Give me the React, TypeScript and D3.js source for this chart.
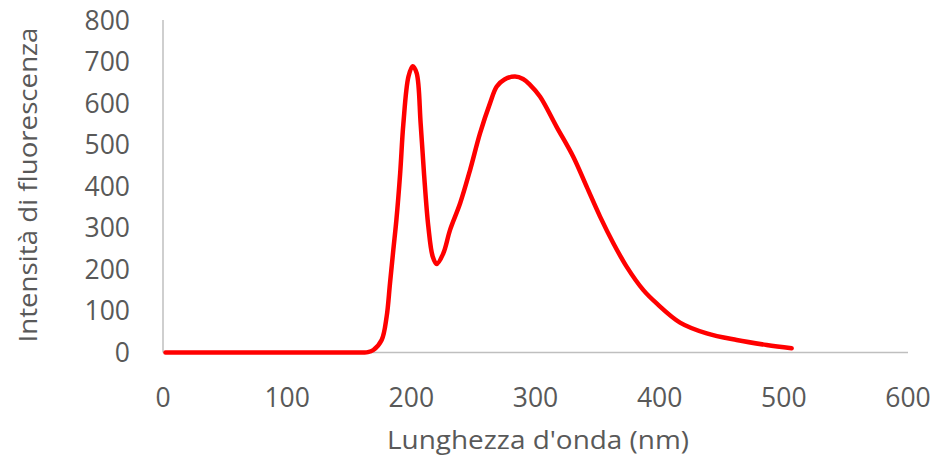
import React from "react";
import * as d3 from "d3";

const wavelengths = [2, 50, 100, 150, 165, 169.4, 176.1, 180.1, 182.8, 185.5, 188, 191, 193.6, 197.7, 201.1, 204.3, 207.5, 210.2, 213.7, 217.2, 220.4, 225.8, 231.2, 239.3, 247.3, 255.3, 263.4, 268.8, 275, 283.5, 290, 295.6, 303.6, 317, 330.4, 341.2, 352, 362.7, 373.5, 386.9, 397.6, 416.4, 437.9, 462, 486.2, 506.3];
const intensities = [0, 0, 0, 0, 1, 6, 30, 86, 166, 247, 320, 431, 551, 664, 689, 672, 551, 431, 303, 231, 213, 239, 295, 359, 439, 527, 600, 640, 657, 664, 658, 644, 616, 543, 471, 399, 327, 263, 206, 150, 118, 72, 46, 30, 18, 10];
const xTicks = [0, 100, 200, 300, 400, 500, 600];
const yTicks = [0, 100, 200, 300, 400, 500, 600, 700, 800];
const xTitle = "Lunghezza d'onda (nm)";
const yTitle = "Intensità di fluorescenza";

export default function App() {
  const W = 951, H = 458;
  const x = d3.scaleLinear().domain([0, 600]).range([163, 908]);
  const y = d3.scaleLinear().domain([0, 800]).range([352.5, 20]);
  const pts = wavelengths.map((w, i) => [w, intensities[i]] as [number, number]);
  const line = d3.line<[number, number]>().x(d => x(d[0])).y(d => y(d[1])).curve(d3.curveCatmullRom.alpha(0.5));
  const font = "'Open Sans', sans-serif";
  const tc = "#595959";
  return (
    <svg width={W} height={H} style={{ position: "absolute", left: 0, top: 0 }}>
      <rect width={W} height={H} fill="#fff" />
      <line x1={x(0)} x2={x(600)} y1={y(0)} y2={y(0)} stroke="#bfbfbf" strokeWidth={1.5} />
      <line x1={x(0)} x2={x(0)} y1={y(0)} y2={y(800)} stroke="#bfbfbf" strokeWidth={1.5} />
      {yTicks.map(t => (
        <text key={t} x={130} y={y(t)} dy="0.36em" textAnchor="end" fontFamily={font} fontSize={26.5} fill={tc}>{t}</text>
      ))}
      {xTicks.map(t => (
        <text key={t} x={x(t)} y={397} dy="0.36em" textAnchor="middle" fontFamily={font} fontSize={26.5} fill={tc}>{t}</text>
      ))}
      <text x={538} y={440} dy="0.35em" textAnchor="middle" fontFamily={font} fontSize={26} fill={tc} textLength={302} lengthAdjust="spacingAndGlyphs">{xTitle}</text>
      <text transform={`translate(28,185) rotate(-90)`} dy="0.35em" textAnchor="middle" fontFamily={font} fontSize={26} fill={tc} textLength={315} lengthAdjust="spacingAndGlyphs">{yTitle}</text>
      <path d={line(pts) || ""} fill="none" stroke="#ff0000" strokeWidth={4.5} strokeLinejoin="round" strokeLinecap="round" />
    </svg>
  );
}
